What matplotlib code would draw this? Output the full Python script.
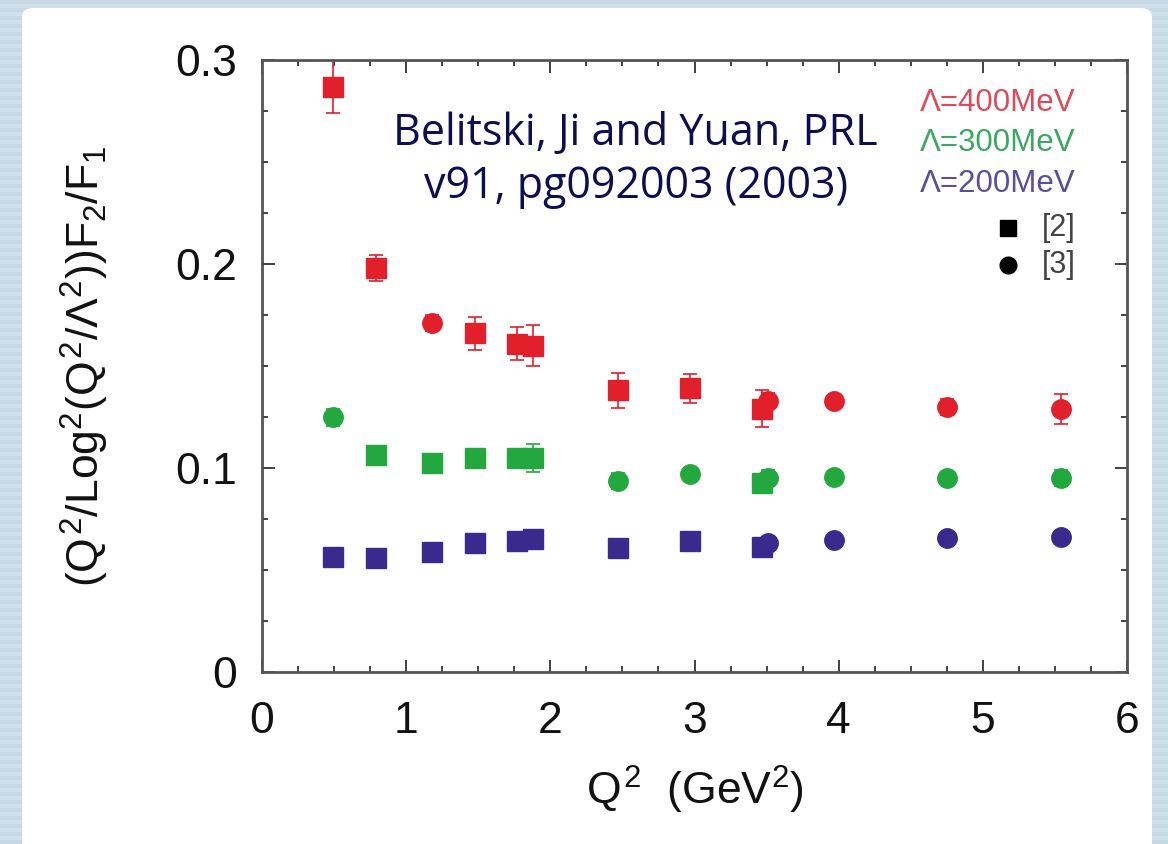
import matplotlib
matplotlib.use("Agg")
import matplotlib.pyplot as plt
from matplotlib.patches import FancyBboxPatch
import numpy as np

plt.rcParams['font.family'] = ['Liberation Sans', 'DejaVu Sans']
plt.rcParams['mathtext.fontset'] = 'custom'
plt.rcParams['mathtext.rm'] = 'Liberation Sans'
plt.rcParams['mathtext.it'] = 'Liberation Sans'
plt.rcParams['mathtext.bf'] = 'Liberation Sans:bold'

# data
# Lambda = 400 MeV (red)
red_sq_x = [0.49, 0.79, 1.48, 1.77, 1.88, 2.47, 2.97, 3.47]
red_sq_y = [0.287, 0.198, 0.166, 0.161, 0.160, 0.138, 0.139, 0.129]
red_sq_err = [0.013, 0.0065, 0.008, 0.008, 0.010, 0.0085, 0.007, 0.009]
red_ci_x = [1.18, 3.51, 3.97, 4.75, 5.54]
red_ci_y = [0.171, 0.133, 0.133, 0.130, 0.129]
red_ci_err = [0.004, 0.004, 0.003, 0.004, 0.0075]

# Lambda = 300 MeV (green)
green_sq_x = [0.79, 1.18, 1.48, 1.77, 1.88, 3.47]
green_sq_y = [0.1064, 0.1026, 0.1047, 0.105, 0.105, 0.0925]
green_sq_err = [0.002, 0.002, 0.002, 0.003, 0.007, 0.003]
green_ci_x = [0.49, 2.47, 2.97, 3.51, 3.97, 4.75, 5.54]
green_ci_y = [0.1248, 0.0936, 0.0969, 0.095, 0.0957, 0.0951, 0.0952]
green_ci_err = [0.004, 0.004, 0.003, 0.004, 0.002, 0.002, 0.004]

# Lambda = 200 MeV (blue)
blue_sq_x = [0.49, 0.79, 1.18, 1.48, 1.77, 1.88, 2.47, 2.97, 3.47]
blue_sq_y = [0.0565, 0.056, 0.0587, 0.063, 0.0644, 0.0652, 0.0606, 0.0642, 0.0614]
blue_ci_x = [3.51, 3.97, 4.75, 5.54]
blue_ci_y = [0.0634, 0.0647, 0.0655, 0.0663]

legend_labels = ['Λ=400MeV', 'Λ=300MeV', 'Λ=200MeV']
ref_labels = ['[2]', '[3]']

RED = '#e2202c'
GREEN = '#22a83e'
BLUE = '#3a2a8e'

fig = plt.figure(figsize=(11.68, 8.44), dpi=100)

# slide background: blue stripes + white panel
bg = fig.add_axes([0, 0, 1, 1], zorder=-10)
stripes = (np.arange(844) // 4) % 2
bg.imshow(stripes[:, None], cmap=matplotlib.colors.ListedColormap(['#c6d8e4', '#d0e0ea']),
          aspect='auto', extent=[0, 1, 0, 1])
bg.set_axis_off()
panel = FancyBboxPatch((22 / 1168, -0.02), 1130 / 1168, 1 - 8 / 844 + 0.02,
                       boxstyle='round,pad=0,rounding_size=0.01',
                       transform=fig.transFigure, facecolor='white', edgecolor='none')
bg.add_patch(panel)

ax = fig.add_axes([262 / 1168, 1 - 672 / 844, 865 / 1168, 612 / 844])
ax.set_facecolor('none')

ekw = dict(elinewidth=1.2, capsize=5, capthick=1.2, linestyle='none')
ax.errorbar(red_sq_x, red_sq_y, yerr=red_sq_err, marker='s', ms=14.5, color=RED, **ekw)
ax.errorbar(red_ci_x, red_ci_y, yerr=red_ci_err, marker='o', ms=14, color=RED, **ekw)
ax.errorbar(green_sq_x, green_sq_y, yerr=green_sq_err, marker='s', ms=14.5, color=GREEN, **ekw)
ax.errorbar(green_ci_x, green_ci_y, yerr=green_ci_err, marker='o', ms=14, color=GREEN, **ekw)
ax.plot(blue_sq_x, blue_sq_y, 's', ms=14.5, color=BLUE, linestyle='none')
ax.plot(blue_ci_x, blue_ci_y, 'o', ms=14, color=BLUE, linestyle='none')

ax.set_xlim(0, 6)
ax.set_ylim(0, 0.3)
ax.set_xticks([0, 1, 2, 3, 4, 5, 6])
ax.set_yticks([0, 0.1, 0.2, 0.3])
ax.set_yticklabels(['0', '0.1', '0.2', '0.3'])
ax.set_xticks(np.arange(0, 6.01, 0.25), minor=True)
ax.set_yticks(np.arange(0, 0.301, 0.025), minor=True)
ax.tick_params(which='both', direction='in', top=True, right=True, color='#333333',
               width=1.3)
ax.tick_params(which='major', length=9, labelsize=32, pad=18, labelcolor='#111111')
ax.tick_params(which='minor', length=4.5)
ax.tick_params(axis='x', which='major', pad=21)
for s in ax.spines.values():
    s.set_color('#555555')
    s.set_linewidth(2)

ax.set_xlabel(r'$Q^2$  (GeV$^2$)', fontsize=32, color='#111111')
ax.xaxis.set_label_coords(0.5, -0.193)
ax.xaxis.label.set_va('center')
ax.set_ylabel(r'$(Q^2/\mathrm{Log}^2(Q^2/\Lambda^2))F_2/F_1$', fontsize=32, color='#111111')
ax.yaxis.set_label_coords(-0.205, 0.5)
ax.yaxis.label.set_va('center')

# legend drawn as text
leg_colors = ['#e04a58', '#3aa860', '#5a4e9c']
leg_y = [0.930, 0.864, 0.797]
for lab, c, yy in zip(legend_labels, leg_colors, leg_y):
    ax.text(0.940, yy, lab, transform=ax.transAxes, ha='right', va='center',
            fontsize=22.5, color=c)
ax.plot([0.862], [0.725], 's', ms=12, color='black', transform=ax.transAxes, clip_on=False)
ax.plot([0.862], [0.665], 'o', ms=12, color='black', transform=ax.transAxes, clip_on=False)
ax.text(0.902, 0.725, ref_labels[0], transform=ax.transAxes, ha='left', va='center',
        fontsize=22, color='#444444')
ax.text(0.902, 0.665, ref_labels[1], transform=ax.transAxes, ha='left', va='center',
        fontsize=22, color='#444444')

ax.text(0.432, 0.836, 'Belitski, Ji and Yuan, PRL\nv91, pg092003 (2003)',
        transform=ax.transAxes, ha='center', va='center', fontsize=31,
        color='#0d0d52', family=['Open Sans', 'DejaVu Sans'], linespacing=1.25)

fig.savefig('out.png', dpi=100)
